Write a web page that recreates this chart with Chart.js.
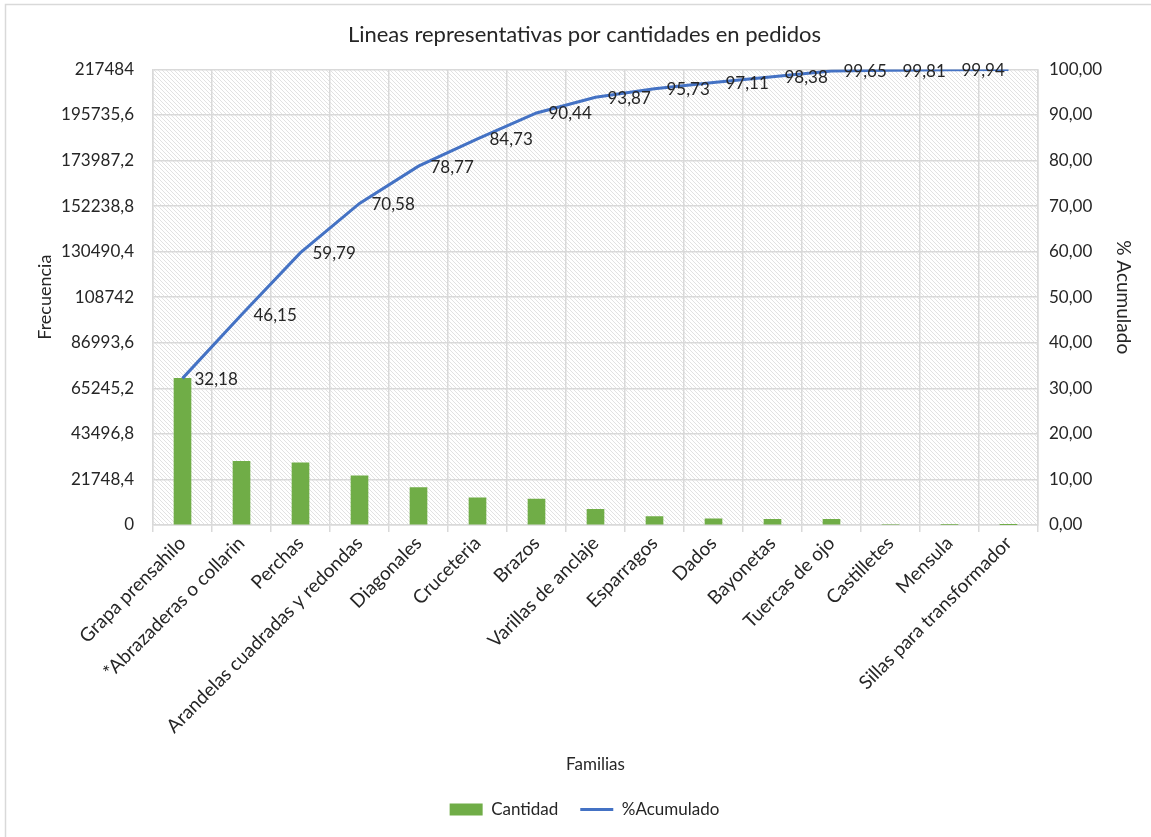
<!DOCTYPE html>
<html lang="es">
<head>
<meta charset="UTF-8" />
<title>Lineas representativas por cantidades en pedidos</title>
<script src="https://cdn.jsdelivr.net/npm/chart.js"></script>
<style>
  html, body { margin: 0; padding: 0; background: #fff; }
  #wrap { width: 1151px; height: 837px; position: relative; }
</style>
</head>
<body>
<div id="wrap"><canvas id="pareto"></canvas></div>

<script>
// familias de productos
const familias = [
  "Grapa prensahilo", "*Abrazaderas o collarin", "Perchas",
  "Arandelas cuadradas y redondas", "Diagonales", "Cruceteria", "Brazos",
  "Varillas de anclaje", "Esparragos", "Dados", "Bayonetas", "Tuercas de ojo",
  "Castilletes", "Mensula", "Sillas para transformador"
];

// cantidad por familia
const cantidad = [69985, 30380, 29665, 23465, 17810, 12960, 12420,
                  7460, 4045, 3000, 2760, 2760, 350, 280, 130];

// % acumulado
const acumulado = [32.18, 46.15, 59.79, 70.58, 78.77, 84.73, 90.44,
                   93.87, 95.73, 97.11, 98.38, 99.65, 99.81, 99.94, 100];

// marcas del eje izquierdo
const freqTicks = [0, 21748.4, 43496.8, 65245.2, 86993.6, 108742,
                   130490.4, 152238.8, 173987.2, 195735.6, 217484];

const FONT = "Lato";
const gridColor = "#d9d9d9";
const textColor = "#262626";

function hatchPattern(ctx) {
  const c = document.createElement("canvas");
  c.width = 4; c.height = 4;
  const p = c.getContext("2d");
  p.fillStyle = "#ffffff";
  p.fillRect(0, 0, 4, 4);
  p.strokeStyle = "#e2e2e2";
  p.lineWidth = 1;
  p.beginPath();
  p.moveTo(-1, -1); p.lineTo(5, 5);
  p.moveTo(-1, 3); p.lineTo(1, 5);
  p.moveTo(3, -1); p.lineTo(5, 1);
  p.stroke();
  return ctx.createPattern(c, "repeat");
}

const plotBackground = {
  id: "plotBackground",
  beforeDraw(chart) {
    const { ctx, chartArea: a } = chart;
    ctx.save();
    ctx.fillStyle = hatchPattern(ctx);
    ctx.fillRect(a.left, a.top, a.right - a.left, a.bottom - a.top);
    ctx.restore();
  },
  afterDraw(chart) {
    // marco del grafico
    const ctx = chart.ctx;
    ctx.save();
    ctx.strokeStyle = gridColor;
    ctx.lineWidth = 1.5;
    ctx.strokeRect(5.5, 4.5, chart.width + 10, chart.height + 10);
    ctx.restore();
  }
};

const lineLabels = {
  id: "lineLabels",
  afterDatasetsDraw(chart) {
    const meta = chart.getDatasetMeta(1);
    const ctx = chart.ctx;
    ctx.save();
    ctx.font = "17px " + FONT;
    ctx.fillStyle = textColor;
    ctx.textAlign = "left";
    ctx.textBaseline = "middle";
    meta.data.forEach((pt, i) => {
      if (i === meta.data.length - 1) return;
      const v = acumulado[i].toFixed(2).replace(".", ",");
      ctx.fillText(v, pt.x + 12, pt.y + 1);
    });
    ctx.restore();
  }
};

const ctx = document.getElementById("pareto").getContext("2d");
new Chart(ctx, {
  data: {
    labels: familias,
    datasets: [
      {
        type: "bar",
        label: "Cantidad",
        data: cantidad,
        backgroundColor: "#70ad47",
        borderWidth: 0,
        barThickness: 17,
        yAxisID: "y",
        order: 1,
        pointStyle: "rect"
      },
      {
        type: "line",
        label: "%Acumulado",
        data: acumulado,
        borderColor: "#4472c4",
        backgroundColor: "#4472c4",
        borderWidth: 3,
        pointRadius: 0,
        tension: 0,
        yAxisID: "y1",
        order: 0,
        pointStyle: "line"
      }
    ]
  },
  options: {
    responsive: true,
    maintainAspectRatio: false,
    animation: false,
    layout: { padding: { left: 30, right: 12, top: 10, bottom: 9 } },
    plugins: {
      title: {
        display: true,
        text: "Lineas representativas por cantidades en pedidos",
        color: textColor,
        font: { family: FONT, size: 22, weight: "normal" },
        padding: { top: 12, bottom: 21 }
      },
      legend: {
        position: "bottom",
        labels: {
          usePointStyle: true,
          pointStyleWidth: 33,
          boxHeight: 12,
          padding: 22,
          color: textColor,
          font: { family: FONT, size: 17 },
          sort: (a, b) => a.datasetIndex - b.datasetIndex
        }
      },
      tooltip: { enabled: false }
    },
    scales: {
      x: {
        grid: { color: gridColor, lineWidth: 1.5, offset: true, tickLength: 7 },
        border: { color: gridColor, width: 1.5 },
        ticks: {
          color: textColor,
          font: { family: FONT, size: 19 },
          autoSkip: false,
          minRotation: 45,
          maxRotation: 45,
          padding: 0
        },
        title: {
          display: true,
          text: "Familias",
          color: textColor,
          font: { family: FONT, size: 17 }
        },
        afterFit(scale) { scale.height = 254; }
      },
      y: {
        position: "left",
        min: 0,
        max: 217484,
        afterBuildTicks(scale) {
          scale.ticks = freqTicks.map(v => ({ value: v }));
        },
        grid: { color: gridColor, lineWidth: 1.5, drawTicks: false },
        border: { color: gridColor, width: 1.5 },
        ticks: {
          color: textColor,
          font: { family: FONT, size: 17 },
          padding: 19,
          callback: v => String(Math.round(v * 10) / 10).replace(".", ",")
        },
        title: {
          display: true,
          text: "Frecuencia",
          color: textColor,
          font: { family: FONT, size: 18 }
        },
        afterFit(scale) { scale.width = 123; }
      },
      y1: {
        position: "right",
        min: 0,
        max: 100,
        grid: { display: false, drawTicks: false },
        border: { color: gridColor, width: 1.5 },
        ticks: {
          stepSize: 10,
          color: textColor,
          font: { family: FONT, size: 17 },
          padding: 11,
          callback: v => v.toFixed(2).replace(".", ",")
        },
        title: {
          display: true,
          text: "% Acumulado",
          color: textColor,
          font: { family: FONT, size: 19 }
        },
        afterFit(scale) { scale.width = 101; }
      }
    }
  },
  plugins: [plotBackground, lineLabels]
});
</script>
</body>
</html>
